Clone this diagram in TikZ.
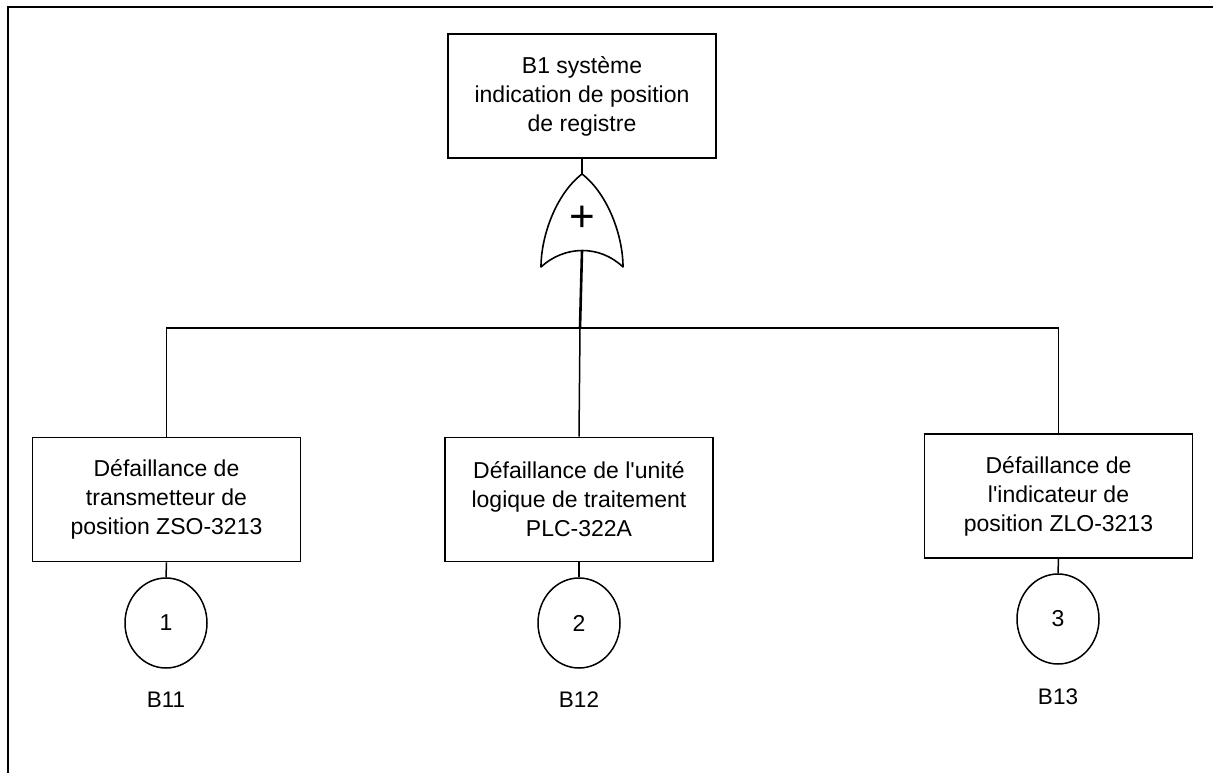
\documentclass[tikz,border=0pt]{standalone}
\usepackage{fontspec}
\setmainfont{Liberation Sans}[Ligatures=TeXOff]
\usetikzlibrary{shapes.geometric}
\begin{document}
\begin{tikzpicture}[x=1pt,y=-1pt,
  event/.style={draw, line width=1.6pt, minimum width=268pt, minimum height=124pt,
    inner sep=0pt, align=center, font=\fontsize{23}{29}\selectfont},
  basic/.style={draw, ellipse, line width=1.5pt, minimum width=82pt, minimum height=90pt,
    inner sep=0pt, font=\fontsize{23}{24}\selectfont},
  tag/.style={font=\fontsize{22.5}{24}\selectfont, inner sep=0pt},
  wire/.style={line width=1.5pt},
  gateline/.style={line width=1.6pt, line join=round}]
\useasboundingbox (0,0) rectangle (1213,773);
% frame
\draw[line width=2pt] (8,773) -- (8,7) -- (1213,7);

% top event
\node[event] (top) at (582,96) {B1 système\\indication de position\\de registre};

% OR gate
\coordinate (gtop) at (582,174);
\coordinate (gbot) at (582,251);
\coordinate (bus) at (580,328);
\draw[gateline] (gtop) .. controls (556,194) and (541,236) .. (541,267)
  .. controls (565,245) and (600,245) .. (623,267)
  .. controls (623,236) and (608,194) .. (gtop);
\node[font=\fontsize{44}{44}\selectfont, inner sep=0pt] (plus) at (582,219) {+};

% sub-events
\node[event] (e1) at (166.5,499.5) {Défaillance de\\transmetteur de\\position ZSO-3213};
\node[event] (e2) at (579,499.5) {Défaillance de l'unité\\logique de traitement\\PLC-322A};
\node[event] (e3) at (1058.5,496) {Défaillance de\\l'indicateur de\\position ZLO-3213};

% basic events
\node[basic] (c1) at (166,623) {1};
\node[basic] (c2) at (579,623) {2};
\node[basic] (c3) at (1058,619) {3};
\node[tag] (l1) at (166,700) {B11};
\node[tag] (l2) at (579,700) {B12};
\node[tag] (l3) at (1058,697) {B13};

% connectors
\draw[wire] (top.south) -- (gtop);
\draw[line width=2.6pt] (gbot) -- (bus);
\draw[wire] (bus) -| (e1.north);
\draw[wire] (bus) -- (e2.north);
\draw[wire] (bus) -| (e3.north);
\draw[wire] (e1.south) -- (c1.north);
\draw[wire] (e2.south) -- (c2.north);
\draw[wire] (e3.south) -- (c3.north);
\end{tikzpicture}
\end{document}
